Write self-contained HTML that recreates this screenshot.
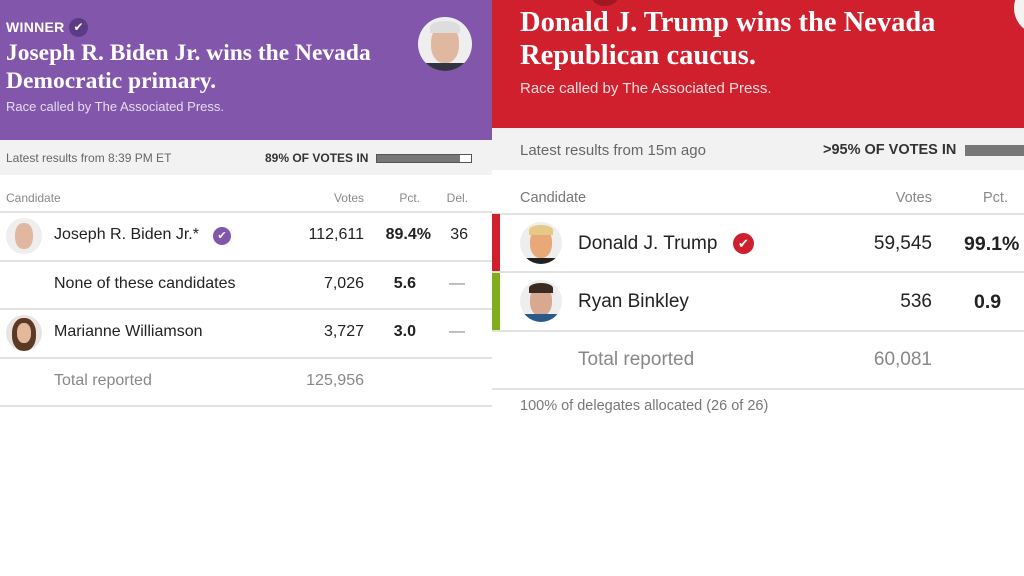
<!DOCTYPE html>
<html><head><meta charset="utf-8"><style>
*{margin:0;padding:0;box-sizing:border-box}
body{width:1024px;height:576px;background:#fff;position:relative;overflow:hidden;font-family:"Liberation Sans",sans-serif;color:#222}
.a{position:absolute;white-space:nowrap}
.serif{font-family:"Liberation Serif",serif;font-weight:bold;color:#fff}
.line{position:absolute;height:2px;background:#e2e2e2}
.r{text-align:right}
.g{color:#888}
</style></head><body>
<!-- LEFT -->
<div class="a" style="left:0;top:0;width:492px;height:140px;background:#8256ab"></div>
<div class="a" style="left:6px;top:19px;font-size:14px;font-weight:bold;color:#fff;letter-spacing:.3px">WINNER</div>
<div class="a" style="left:69px;top:18px;width:19px;height:19px;border-radius:50%;background:#5d3a85;color:#fff;font-size:12px;text-align:center;line-height:19px">✔</div>
<div class="a serif" style="left:6px;top:39px;font-size:23.5px;line-height:28px">Joseph R. Biden Jr. wins the Nevada<br>Democratic primary.</div>
<div class="a" style="left:6px;top:99px;font-size:13px;color:#e6dcf0">Race called by The Associated Press.</div>
<div class="a" style="left:418px;top:17px;width:54px;height:54px;border-radius:50%;background:#eee;overflow:hidden"><div style="position:absolute;left:13px;top:8px;width:28px;height:38px;border-radius:45%;background:#e0b8a0"></div><div style="position:absolute;left:12px;top:4px;width:30px;height:12px;border-radius:50% 50% 0 0;background:#ddd"></div><div style="position:absolute;left:8px;top:46px;width:38px;height:10px;background:#334"></div></div>
<div class="a" style="left:0;top:140px;width:492px;height:35px;background:#f2f2f2"></div>
<div class="a" style="left:6px;top:151px;font-size:12px;color:#666">Latest results from 8:39 PM ET</div>
<div class="a" style="left:265px;top:151px;font-size:12px;font-weight:bold;color:#333">89% OF VOTES IN</div>
<div class="a" style="left:376px;top:154px;width:96px;height:9px;background:#777;border:1px solid #555"></div>
<div class="a" style="left:460px;top:155px;width:11px;height:7px;background:#fff"></div>
<div class="a" style="left:6px;top:191px;font-size:12px;color:#888">Candidate</div>
<div class="a g" style="left:320px;top:191px;width:44px;font-size:12px;text-align:right">Votes</div>
<div class="a g" style="left:390px;top:191px;width:30px;font-size:12px;text-align:right">Pct.</div>
<div class="a g" style="left:440px;top:191px;width:28px;font-size:12px;text-align:right">Del.</div>
<div class="line" style="left:0;top:211px;width:492px"></div>
<div class="line" style="left:0;top:260px;width:492px"></div>
<div class="line" style="left:0;top:308px;width:492px"></div>
<div class="line" style="left:0;top:357px;width:492px"></div>
<div class="line" style="left:0;top:405px;width:492px"></div>
<div class="a" style="left:6px;top:218px;width:36px;height:36px;border-radius:50%;background:#eee;overflow:hidden"><div style="position:absolute;left:9px;top:5px;width:18px;height:26px;border-radius:45%;background:#e0b8a0"></div></div>
<div class="a" style="left:6px;top:315px;width:36px;height:36px;border-radius:50%;background:#e9e4df;overflow:hidden"><div style="position:absolute;left:6px;top:3px;width:24px;height:33px;border-radius:45%;background:#5a3a25"></div><div style="position:absolute;left:11px;top:8px;width:14px;height:20px;border-radius:45%;background:#e3b89c"></div></div>
<div class="a" style="left:54px;top:226px;font-size:16px">Joseph R. Biden Jr.*</div>
<div class="a" style="left:213px;top:227px;width:18px;height:18px;border-radius:50%;background:#8256ab;color:#fff;font-size:11px;text-align:center;line-height:18px">✔</div>
<div class="a" style="left:54px;top:275px;font-size:16px">None of these candidates</div>
<div class="a" style="left:54px;top:323px;font-size:16px">Marianne Williamson</div>
<div class="a g" style="left:54px;top:372px;font-size:16px">Total reported</div>
<div class="a r" style="left:280px;top:226px;width:84px;font-size:16px">112,611</div>
<div class="a r" style="left:280px;top:275px;width:84px;font-size:16px">7,026</div>
<div class="a r" style="left:280px;top:323px;width:84px;font-size:16px">3,727</div>
<div class="a r g" style="left:280px;top:372px;width:84px;font-size:16px">125,956</div>
<div class="a r" style="left:370px;top:226px;width:61px;font-size:16px;font-weight:bold">89.4%</div>
<div class="a r" style="left:370px;top:275px;width:46px;font-size:16px;font-weight:bold">5.6</div>
<div class="a r" style="left:370px;top:323px;width:46px;font-size:16px;font-weight:bold">3.0</div>
<div class="a r" style="left:430px;top:226px;width:38px;font-size:16px">36</div>
<div class="a" style="left:449px;top:275px;font-size:16px;color:#888">—</div>
<div class="a" style="left:449px;top:323px;font-size:16px;color:#888">—</div>
<!-- RIGHT -->
<div class="a" style="left:492px;top:0;width:532px;height:128px;background:#d0202e"></div>
<div class="a" style="left:592px;top:-12px;width:26px;height:18px;border-radius:50%;background:#a01822"></div>
<div class="a" style="left:1014px;top:-20px;width:60px;height:56px;border-radius:50%;background:#f3f3f3"></div>
<div class="a serif" style="left:520px;top:6px;font-size:28.5px;line-height:33px">Donald J. Trump wins the Nevada<br>Republican caucus.</div>
<div class="a" style="left:520px;top:80px;font-size:15px;color:#f6dcdc">Race called by The Associated Press.</div>
<div class="a" style="left:492px;top:128px;width:532px;height:42px;background:#f2f2f2"></div>
<div class="a" style="left:520px;top:142px;font-size:15px;color:#666">Latest results from 15m ago</div>
<div class="a" style="left:823px;top:142px;font-size:14.5px;font-weight:bold;color:#333">&gt;95% OF VOTES IN</div>
<div class="a" style="left:965px;top:145px;width:60px;height:11px;background:#777"></div>
<div class="a" style="left:520px;top:190px;font-size:14.5px;color:#777">Candidate</div>
<div class="a g" style="left:870px;top:190px;width:62px;font-size:14.5px;text-align:right">Votes</div>
<div class="a g" style="left:970px;top:190px;width:38px;font-size:14.5px;text-align:right">Pct.</div>
<div class="line" style="left:492px;top:213px;width:532px"></div>
<div class="line" style="left:492px;top:271px;width:532px"></div>
<div class="line" style="left:492px;top:330px;width:532px"></div>
<div class="line" style="left:492px;top:388px;width:532px"></div>
<div class="a" style="left:492px;top:214px;width:8px;height:57px;background:#d0202e"></div>
<div class="a" style="left:492px;top:273px;width:8px;height:57px;background:#7fae1a"></div>
<div class="a" style="left:520px;top:222px;width:42px;height:42px;border-radius:50%;background:#eee;overflow:hidden"><div style="position:absolute;left:10px;top:6px;width:22px;height:30px;border-radius:45%;background:#e8a878"></div><div style="position:absolute;left:9px;top:3px;width:24px;height:10px;border-radius:50% 50% 0 0;background:#e6c987"></div><div style="position:absolute;left:6px;top:36px;width:30px;height:8px;background:#222"></div></div>
<div class="a" style="left:520px;top:280px;width:42px;height:42px;border-radius:50%;background:#eee;overflow:hidden"><div style="position:absolute;left:10px;top:6px;width:22px;height:30px;border-radius:45%;background:#d8a890"></div><div style="position:absolute;left:9px;top:3px;width:24px;height:10px;border-radius:50% 50% 0 0;background:#3a2a22"></div><div style="position:absolute;left:4px;top:34px;width:34px;height:10px;background:#2a5a8a"></div></div>
<div class="a" style="left:578px;top:233px;font-size:19px">Donald J. Trump</div>
<div class="a" style="left:733px;top:233px;width:21px;height:21px;border-radius:50%;background:#d0202e;color:#fff;font-size:13px;text-align:center;line-height:21px">✔</div>
<div class="a" style="left:578px;top:291px;font-size:19px">Ryan Binkley</div>
<div class="a g" style="left:578px;top:349px;font-size:19px">Total reported</div>
<div class="a r" style="left:830px;top:233px;width:102px;font-size:19px">59,545</div>
<div class="a r" style="left:830px;top:291px;width:102px;font-size:19px">536</div>
<div class="a r g" style="left:830px;top:349px;width:102px;font-size:19px">60,081</div>
<div class="a" style="left:964px;top:233px;font-size:19.5px;font-weight:bold">99.1%</div>
<div class="a" style="left:974px;top:291px;font-size:19.5px;font-weight:bold">0.9</div>
<div class="a" style="left:520px;top:398px;font-size:14.5px;color:#777">100% of delegates allocated (26 of 26)</div>
</body></html>
